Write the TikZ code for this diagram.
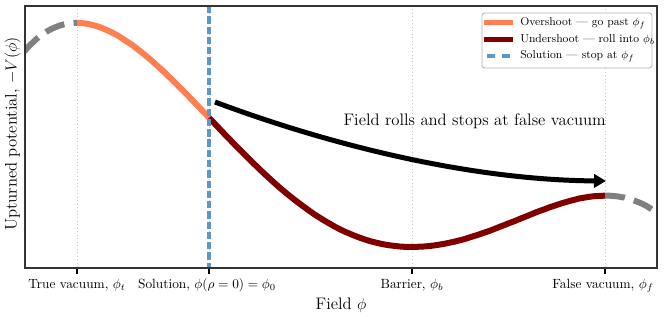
\documentclass[tikz,border=0pt]{standalone}
\usepackage{tikz}
\usepackage{xcolor}
\usetikzlibrary{arrows.meta, calc}

\definecolor{overshoot}{RGB}{255,127,80}
\definecolor{undershoot}{RGB}{128,0,0}
\definecolor{solution}{RGB}{92,150,204}

\begin{document}
\begin{tikzpicture}[x=0.75pt, y=-0.75pt, font=\normalsize,
  declare function={pot(\t)=23+7708*(\t*\t*\t*\t/4-1.6345*\t*\t*\t/3+0.31725*\t*\t);},
  potline/.style={line width=4.5pt},
  tailline/.style={line width=4.5pt, gray, dash pattern=on 15pt off 7pt},
  ticklabel/.style={anchor=base, inner sep=0pt},
  biglabel/.style={font=\fontsize{12.5}{15}\selectfont, inner sep=0pt},
  legendtext/.style={anchor=base west, inner sep=0pt, font=\fontsize{8.5}{10}\selectfont}]
\useasboundingbox (0,0) rectangle (664,317);

% grid lines and ticks
\foreach \xt in {77,209,412,605} {
  \draw[gray!45, dotted, line width=0.6pt] (\xt,6) -- (\xt,268);
  \draw[line width=1pt] (\xt,268) -- (\xt,273.5);
}

% potential -V(phi)
\begin{scope}
\clip (25,6) rectangle (657,268);
\draw[tailline] plot[domain=-0.1:0, samples=20] ({77+528*\x},{pot(\x)});
\draw[potline, overshoot] plot[domain=0:0.25, samples=40] ({77+528*\x},{pot(\x)});
\draw[potline, undershoot] plot[domain=0.25:1, samples=80] ({77+528*\x},{pot(\x)});
\draw[tailline] plot[domain=1:1.1, samples=20] ({77+528*\x},{pot(\x)});
% solution phi_0
\draw[solution, line width=2.3pt, dash pattern=on 5.5pt off 2.2pt] (209,6) -- (209,268);
\end{scope}

% frame
\draw[black!80, line width=0.8pt] (25,6) rectangle (657,268);

% rolling arrow
\coordinate (rollstart) at (215,102);
\coordinate (rollend) at (606,181);
\draw[line width=3.75pt, -{Triangle[length=9pt, width=10pt]}]
  (rollstart) .. controls (330,145) and (470,180) .. (rollend);
\node[biglabel, anchor=base east] (rolltext) at (606,126) {Field rolls and stops at false vacuum};

% tick labels
\node[ticklabel] (lbltrue) at (77,288) {True vacuum, $\phi_t$};
\node[ticklabel] (lblsol) at (207,288) {Solution, $\phi(\rho=0)=\phi_0$};
\node[ticklabel] (lblbar) at (412,288) {Barrier, $\phi_b$};
\node[ticklabel] (lblfalse) at (603,288) {False vacuum, $\phi_f$};

% axis labels
\node[biglabel, anchor=base] (xlabel) at (341,309) {Field $\phi$};
\node[biglabel, anchor=base, rotate=90] (ylabel) at (16.5,134) {Upturned potential, $-V(\phi)$};

% legend
\draw[gray!60, fill=white, rounded corners=2pt, line width=0.6pt] (482,13) rectangle (652,68);
\draw[overshoot, line width=4pt] (484,22.5) -- (513,22.5);
\node[legendtext] (legover) at (520,25.5) {Overshoot --- go past $\phi_f$};
\draw[undershoot, line width=4pt] (484,39.5) -- (513,39.5);
\node[legendtext] (legunder) at (520,42.5) {Undershoot --- roll into $\phi_b$};
\draw[solution, line width=2.3pt, dash pattern=on 6pt off 5pt] (487,56) -- (511,56);
\node[legendtext] (legsol) at (520,59) {Solution --- stop at $\phi_f$};
\end{tikzpicture}
\end{document}
